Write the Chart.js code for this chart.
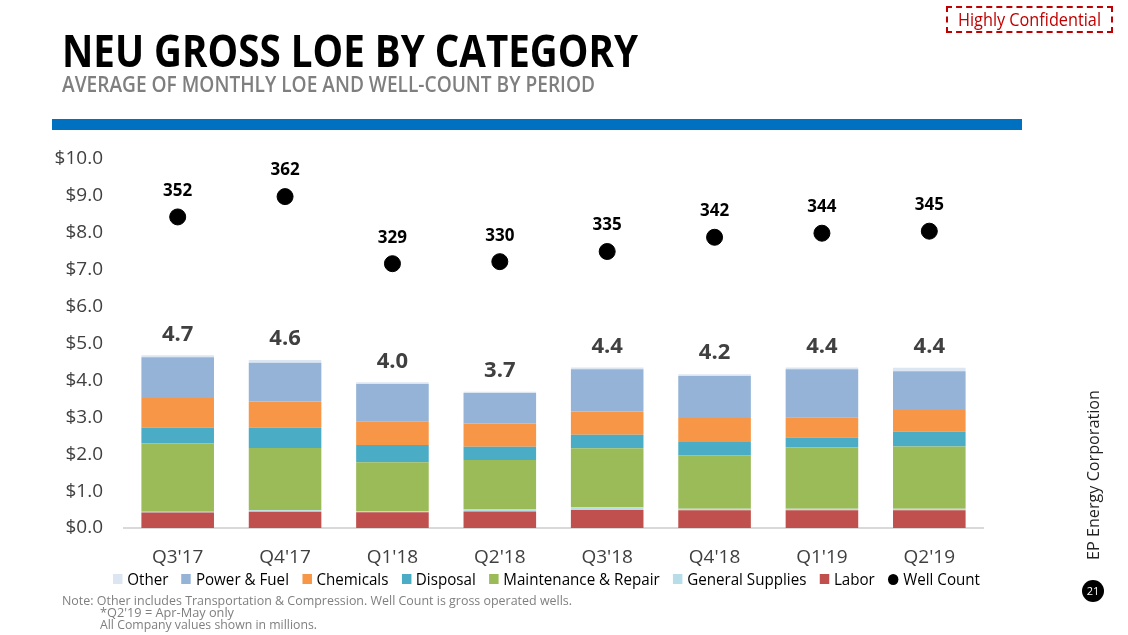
<!DOCTYPE html>
<html><head><meta charset="utf-8">
<script src="https://cdn.jsdelivr.net/npm/chart.js@4.4.1/dist/chart.umd.min.js"></script>
<style>
html,body{margin:0;padding:0;background:#fff;}
body{width:1128px;height:635px;position:relative;overflow:hidden;font-family:"Open Sans",sans-serif;}
#c{position:absolute;left:0;top:0;}
.fit{position:absolute;white-space:nowrap;transform-origin:0 50%;line-height:1;}
#title{left:62px;top:27px;font-size:45px;font-weight:700;color:#000;}
#sub{left:62px;top:74px;font-size:21px;font-weight:600;color:#7f7f7f;}
#bluebar{position:absolute;left:52px;top:119px;width:970px;height:11px;background:#0070c0;}
#conf{position:absolute;left:946px;top:6px;width:163px;height:23px;border:2px dashed #c00000;}
#conftxt{left:958px;top:10px;font-size:18px;color:#c00000;}
#legend{left:113px;top:571px;font-size:16px;color:#000;display:flex;align-items:center;}
#legend .it{display:flex;align-items:center;margin-right:14px;}
#legend .bx{width:10px;height:10px;margin-right:5px;}
#legend .dot{width:11px;height:11px;border-radius:50%;background:#000;margin-right:5px;}
.note{position:absolute;white-space:nowrap;font-size:12.5px;color:#7f7f7f;line-height:12px;transform-origin:0 50%;}
#ep{position:absolute;left:1093px;top:475px;white-space:nowrap;font-size:16px;color:#222;}
#pg{position:absolute;left:1082px;top:580px;width:22px;height:22px;border-radius:50%;background:#000;color:#fff;font-size:11px;line-height:22px;text-align:center;}
</style></head>
<body>
<canvas id="c" width="1128" height="635"></canvas>
<div id="title" class="fit" data-w="576">NEU GROSS LOE BY CATEGORY</div>
<div id="sub" class="fit" data-w="533">AVERAGE OF MONTHLY LOE AND WELL-COUNT BY PERIOD</div>
<div id="bluebar"></div>
<div id="conf"></div>
<div id="conftxt" class="fit" data-w="143">Highly Confidential</div>
<div id="legend" class="fit" data-w="867"></div>
<div class="note fit" data-w="510" style="left:62px;top:595px;">Note: Other includes Transportation &amp; Compression. Well Count is gross operated wells.</div>
<div class="note fit" data-w="134" style="left:100px;top:607px;">*Q2'19 = Apr-May only</div>
<div class="note fit" data-w="217" style="left:100px;top:619px;">All Company values shown in millions.</div>
<div id="ep">EP Energy Corporation</div>
<div id="pg">21</div>
<script>
const categories = ["Q3'17","Q4'17","Q1'18","Q2'18","Q3'18","Q4'18","Q1'19","Q2'19"];
const labor           = [0.42,0.44,0.43,0.45,0.49,0.48,0.48,0.48];
const generalSupplies = [0.02,0.04,0.03,0.05,0.07,0.04,0.04,0.04];
const maintenance     = [1.85,1.69,1.32,1.34,1.60,1.45,1.66,1.69];
const disposal        = [0.43,0.55,0.47,0.36,0.37,0.36,0.27,0.40];
const chemicals       = [0.80,0.71,0.63,0.63,0.63,0.65,0.55,0.59];
const powerFuel       = [1.11,1.05,1.02,0.83,1.14,1.14,1.30,1.05];
const other           = [0.05,0.07,0.05,0.03,0.05,0.05,0.05,0.09];
const wellCount       = [352,362,329,330,335,342,344,345];
const totalLabels     = ["4.7","4.6","4.0","3.7","4.4","4.2","4.4","4.4"];

// stacking order bottom -> top
const barSeries = [
  {name:"Labor", data:labor, color:"#c0504d"},
  {name:"General Supplies", data:generalSupplies, color:"#b7dee8"},
  {name:"Maintenance & Repair", data:maintenance, color:"#9bbb59"},
  {name:"Disposal", data:disposal, color:"#4bacc6"},
  {name:"Chemicals", data:chemicals, color:"#f79646"},
  {name:"Power & Fuel", data:powerFuel, color:"#95b3d7"},
  {name:"Other", data:other, color:"#dce6f2"}
];

// legend (HTML) in reference order: top of stack first, then well count
const lg = document.getElementById('legend');
barSeries.slice().reverse().forEach(s=>{
  const it=document.createElement('div'); it.className='it';
  it.innerHTML='<div class="bx" style="background:'+s.color+'"></div><span>'+s.name.replace('&','&amp;')+'</span>';
  lg.appendChild(it);
});
const wi=document.createElement('div'); wi.className='it'; wi.style.marginRight='0';
wi.innerHTML='<div class="dot"></div><span>Well Count</span>'; lg.appendChild(wi);

const labelPlugin = {
  id:'valueLabels',
  afterDatasetsDraw(chart){
    const ctx=chart.ctx; const n=barSeries.length;
    ctx.save(); ctx.textAlign='center'; ctx.textBaseline='middle';
    ctx.font='bold 22px "Open Sans"'; ctx.fillStyle='#404040';
    chart.getDatasetMeta(n-1).data.forEach((bar,i)=>ctx.fillText(totalLabels[i], bar.x, bar.y-21));
    ctx.font='bold 17px "Open Sans"'; ctx.fillStyle='#000';
    chart.getDatasetMeta(n).data.forEach((pt,i)=>ctx.fillText(String(wellCount[i]), pt.x, pt.y-26));
    ctx.restore();
  }
};

const datasets = barSeries.map(s=>({
  type:'bar', label:s.name, data:s.data, backgroundColor:s.color, borderWidth:0,
  categoryPercentage:0.676, barPercentage:1, yAxisID:'y', stack:'loe'
}));
datasets.push({type:'line', label:'Well Count', data:wellCount, yAxisID:'y1', showLine:false,
  pointRadius:8, pointBackgroundColor:'#000', pointBorderColor:'#000', borderColor:'#000'});

new Chart(document.getElementById('c'), {
  data:{labels:categories, datasets},
  options:{
    responsive:false, animation:false,
    layout:{padding:{top:159,left:0,right:145,bottom:67}},
    plugins:{legend:{display:false}, tooltip:{enabled:false}},
    scales:{
      x:{stacked:true, grid:{display:false, drawTicks:false}, border:{display:true,color:'#d9d9d9',width:2},
         ticks:{color:'#404040', font:{family:'Open Sans', size:19}, padding:18},
         afterFit(s){s.height=40;}},
      y:{stacked:true, min:0, max:10, grid:{display:false, drawTicks:false}, border:{display:false},
         ticks:{stepSize:1, color:'#404040', font:{family:'Open Sans', size:19}, padding:21,
                callback:v=>'$'+Number(v).toFixed(1)},
         afterFit(s){s.width=124;}},
      y1:{display:false, min:199, max:380.5, position:'right', grid:{display:false}}
    }
  },
  plugins:[labelPlugin]
});

document.querySelectorAll('.fit').forEach(el=>{
  const w=parseFloat(el.dataset.w); const nat=el.getBoundingClientRect().width;
  if(nat>0) el.style.transform='scaleX('+(w/nat)+')';
});
const ep=document.getElementById('ep');
const epw=ep.getBoundingClientRect().width, eph=ep.getBoundingClientRect().height;
const sc=170/epw;
ep.style.transformOrigin='0 0';
ep.style.left=(1093-eph/2)+'px'; ep.style.top=(560)+'px';
ep.style.transform='rotate(-90deg) scaleX('+sc+')';
</script>
</body></html>
